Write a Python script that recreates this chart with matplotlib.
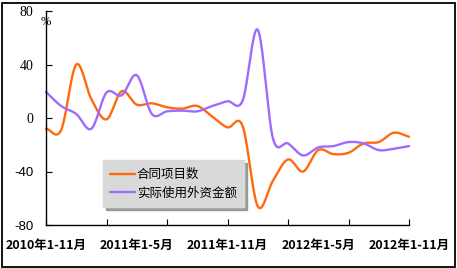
import numpy as np
import matplotlib
matplotlib.use("Agg")
import matplotlib.pyplot as plt
from matplotlib.patches import Rectangle

plt.rcParams['font.family'] = ['Noto Sans CJK SC', 'DejaVu Sans']

# ---- data ----
months = list(range(25))  # 2010-11 .. 2012-11, monthly cumulative
contract_projects = [-8, -9, 40, 14, -1, 20, 10, 11, 8, 7, 9, 1, -7, -6,
                     -66, -47, -31, -40, -24, -27, -26, -19, -18, -11, -14]
actual_fdi = [19.5, 9, 3, -8, 19, 17, 32, 3, 5, 5.5, 5, 9, 12.5, 13,
              66, -15, -19, -28, -22, -21, -18, -19, -24, -23, -21]
series_names = ['合同项目数', '实际使用外资金额']
series_colors = ['#FF6A10', '#9F6BFF']
xtick_label_pos = [0, 6, 12, 18, 24]
xtick_labels = ['2010年1-11月', '2011年1-5月', '2011年1-11月', '2012年1-5月', '2012年1-11月']
xtick_major = [0, 4, 8, 12, 16, 20, 24]
yticks = [-80, -40, 0, 40, 80]


def smooth(xs, ys, n=20):
    """Catmull-Rom smoothing (like spreadsheet 'smoothed line') for drawing."""
    xs = np.asarray(xs, float)
    ys = np.asarray(ys, float)
    px = np.concatenate([[2 * xs[0] - xs[1]], xs, [2 * xs[-1] - xs[-2]]])
    py = np.concatenate([[2 * ys[0] - ys[1]], ys, [2 * ys[-1] - ys[-2]]])
    outx, outy = [], []
    t = np.linspace(0, 1, n, endpoint=False)
    for i in range(1, len(px) - 2):
        for P, out in ((px, outx), (py, outy)):
            p0, p1, p2, p3 = P[i - 1], P[i], P[i + 1], P[i + 2]
            v = 0.5 * ((2 * p1) + (-p0 + p2) * t + (2 * p0 - 5 * p1 + 4 * p2 - p3) * t ** 2
                       + (-p0 + 3 * p1 - 3 * p2 + p3) * t ** 3)
            out.extend(v)
    outx.append(xs[-1])
    outy.append(ys[-1])
    return np.array(outx), np.array(outy)


fig = plt.figure(figsize=(4.57, 2.68), dpi=100)
ax = fig.add_axes([46 / 457, 1 - 225 / 268, 363 / 457, 214 / 268])

for vals, name, col in zip([contract_projects, actual_fdi], series_names, series_colors):
    sx, sy = smooth(months, vals)
    ax.plot(sx, sy, color=col, lw=1.7, label=name, solid_capstyle='round', clip_on=False)

ax.set_xlim(0, 24)
ax.set_ylim(-80, 80)
for s in ['top', 'right']:
    ax.spines[s].set_visible(False)
for s in ['left', 'bottom']:
    ax.spines[s].set_linewidth(1.0)
    ax.spines[s].set_color('black')

ax.xaxis.remove_overlapping_locs = False
ax.set_xticks(xtick_major)
ax.set_xticklabels([])
ax.set_xticks(xtick_label_pos, xtick_labels, minor=True)
ax.tick_params(axis='x', which='major', direction='in', length=4, width=0.8)
ax.tick_params(axis='x', which='minor', length=0, pad=10, labelsize=9)
for lab in ax.get_xticklabels(minor=True):
    lab.set_fontweight('bold')

ax.set_yticks(yticks)
ax.set_yticklabels([str(v) for v in yticks])
ax.tick_params(axis='y', direction='in', length=4, width=0.8, pad=9, labelsize=10)
for lab, v in zip(ax.get_yticklabels(), yticks):
    if v < 0:
        lab.set_fontfamily('Liberation Sans')
        lab.set_fontsize(9.5)
    else:
        lab.set_fontfamily('Liberation Serif')

ax.text(0.0, 0.95, '%', transform=ax.transAxes, ha='center', va='center',
        fontsize=9, family='Liberation Serif')

leg = ax.legend(loc='lower left', bbox_to_anchor=(0.157, 0.084), borderaxespad=0,
                frameon=True, fancybox=False, shadow={'color': '#888888', 'alpha': 0.8},
                facecolor='#D9D9D9', edgecolor='#D9D9D9', framealpha=1,
                fontsize=9, handlelength=2.0, handletextpad=0.1, labelspacing=0.45,
                borderpad=0.6)

fig.patches.append(Rectangle((1.5 / 457, 1.5 / 268), 453.5 / 457, 264 / 268,
                             transform=fig.transFigure, fill=False,
                             edgecolor='black', lw=1.3))

fig.savefig('out.png', dpi=100)
